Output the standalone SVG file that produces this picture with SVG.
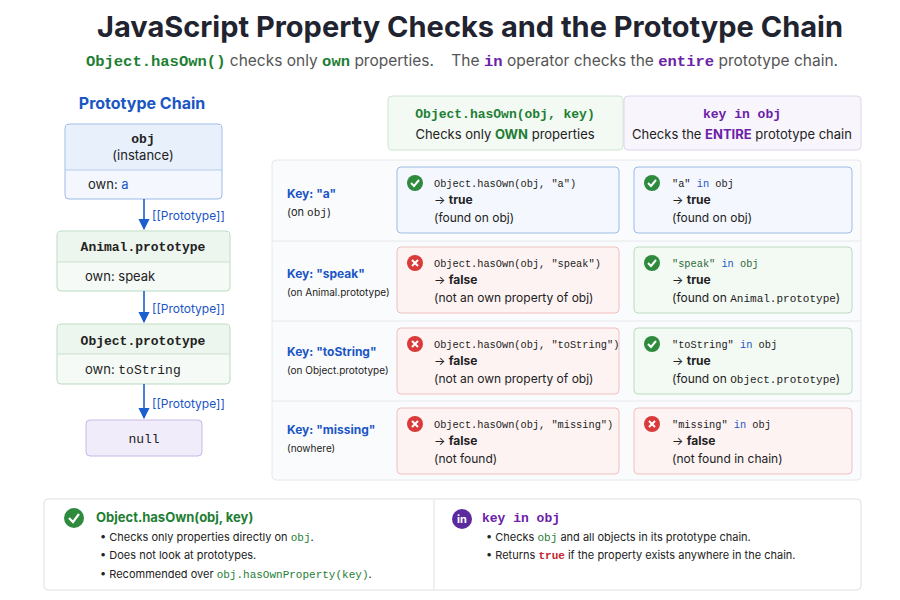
<svg xmlns="http://www.w3.org/2000/svg" width="900" height="600" viewBox="0 0 900 600">
<defs>
<marker id="ar" viewBox="0 0 10 10" refX="9" refY="5" markerWidth="7" markerHeight="7" orient="auto"><path d="M0,0L10,5L0,10z" fill="#1a5fd0"/></marker>
<g id="ok"><circle r="8" fill="#2e8b3e"/><path d="M-4,0L-1,3L4,-3" fill="none" stroke="#fff" stroke-width="2"/></g>
<g id="no"><circle r="8" fill="#d93a3a"/><path d="M-3,-3L3,3M3,-3L-3,3" stroke="#fff" stroke-width="2"/></g>
</defs>
<style>
text{font-family:"Inter","Liberation Sans",sans-serif;fill:#222}
.m{font-family:"Liberation Mono","DejaVu Sans Mono",monospace}
.t{font-size:29px;font-weight:bold;fill:#1f2430}
.s{font-size:15.5px;fill:#555}
.g{fill:#1e7e34}.p{fill:#6b21a8}.b{fill:#1a56c4}.r{fill:#c0262d}
.bold{font-weight:bold}
.c{font-size:12px}
.mc{font-size:10.3px}
.bx{fill:#f4f7fd;stroke:#9dbbe6}
.gx{fill:#f3f9f3;stroke:#b9dcbf}
.rx{fill:#fdf3f3;stroke:#efc0c0}
</style>
<text x="470" y="37" text-anchor="middle" class="t">JavaScript Property Checks and the Prototype Chain</text>
<text x="462" y="66" text-anchor="middle" class="s"><tspan class="m g bold">Object.hasOwn()</tspan> checks only <tspan class="m g bold">own</tspan> properties.<tspan dx="18">The</tspan> <tspan class="m p bold">in</tspan> operator checks the <tspan class="m p bold">entire</tspan> prototype chain.</text>

<text x="142" y="109" text-anchor="middle" font-size="16" class="b bold">Prototype Chain</text>
<g id="n-obj">
<rect x="65" y="124" width="157" height="75" rx="4" fill="#f4f7fd" stroke="#9dbbe6"/>
<path d="M66,125H221V170H66z" fill="#e8f0fb"/>
<line x1="65" y1="170" x2="222" y2="170" stroke="#b6cbec"/>
<text x="143" y="143" text-anchor="middle" font-size="13" class="m bold">obj</text>
<text x="143" y="160" text-anchor="middle" font-size="13">(instance)</text>
<text x="88" y="189" font-size="13"><tspan>own:</tspan> <tspan class="b">a</tspan></text>
</g>
<g id="n-animal">
<rect x="57" y="231" width="173" height="60" rx="4" fill="#f6faf6" stroke="#b9dcbf"/>
<path d="M58,232H229V262H58z" fill="#edf6ee"/>
<line x1="57" y1="262" x2="230" y2="262" stroke="#c8e2cc"/>
<text x="143" y="251" text-anchor="middle" font-size="13" class="m bold">Animal.prototype</text>
<text x="85" y="281" font-size="13">own:  speak</text>
</g>
<g id="n-object">
<rect x="57" y="324" width="173" height="60" rx="4" fill="#f6faf6" stroke="#b9dcbf"/>
<path d="M58,325H229V354H58z" fill="#edf6ee"/>
<line x1="57" y1="354" x2="230" y2="354" stroke="#c8e2cc"/>
<text x="143" y="345" text-anchor="middle" font-size="13" class="m bold">Object.prototype</text>
<text x="85" y="374" font-size="13">own:  <tspan class="m">toString</tspan></text>
</g>
<g id="n-null">
<rect x="86" y="420" width="116" height="36" rx="4" fill="#f1ecfa" stroke="#c9b8e8"/>
<text x="144" y="443" text-anchor="middle" font-size="13" class="m">null</text>
</g>
<g id="connectors" stroke="#1a5fd0" stroke-width="1.6" fill="none">
<line x1="144" y1="199" x2="144" y2="229" marker-end="url(#ar)"/>
<line x1="144" y1="291" x2="144" y2="322" marker-end="url(#ar)"/>
<line x1="144" y1="384" x2="144" y2="418" marker-end="url(#ar)"/>
</g>
<g font-size="12">
<text x="152" y="220" class="b">[[Prototype]]</text>
<text x="152" y="313" class="b">[[Prototype]]</text>
<text x="152" y="408" class="b">[[Prototype]]</text>
</g>

<g id="h-own">
<rect x="388" y="96" width="235" height="54" rx="4" fill="#f3f9f3" stroke="#cfe6d3"/>
<text x="505" y="118" text-anchor="middle" font-size="13" class="m g bold">Object.hasOwn(obj, key)</text>
<text x="505" y="139" text-anchor="middle" font-size="13">Checks only <tspan class="g bold">OWN</tspan> properties</text>
</g>
<g id="h-in">
<rect x="624" y="96" width="237" height="54" rx="4" fill="#f8f6fc" stroke="#ddd4ee"/>
<text x="742" y="118" text-anchor="middle" font-size="13" class="m p bold">key in obj</text>
<text x="742" y="139" text-anchor="middle" font-size="13">Checks the <tspan class="p bold">ENTIRE</tspan> prototype chain</text>
</g>

<rect x="272" y="160" width="589" height="320" rx="4" fill="#fafbfc" stroke="#e6e8eb"/>
<g stroke="#e6e8eb"><line x1="272" y1="241" x2="861" y2="241"/><line x1="272" y1="321" x2="861" y2="321"/><line x1="272" y1="401" x2="861" y2="401"/></g>

<g id="row-a">
<text x="287" y="198" font-size="12" class="b bold">Key: "a"</text>
<text x="287" y="216" font-size="11">(on <tspan class="m">obj</tspan>)</text>
<rect x="397" y="167" width="222" height="66" rx="4" class="bx"/>
<use href="#ok" x="415" y="183"/>
<text x="434" y="187" class="m mc">Object.hasOwn(obj, "a")</text>
<text x="434" y="204" class="c">→ <tspan class="bold">true</tspan></text>
<text x="434" y="222" class="c">(found on obj)</text>
<rect x="634" y="167" width="218" height="66" rx="4" class="bx"/>
<use href="#ok" x="652" y="183"/>
<text x="672" y="187" class="m mc">"a" <tspan class="b">in</tspan> obj</text>
<text x="672" y="204" class="c">→ <tspan class="bold">true</tspan></text>
<text x="672" y="222" class="c">(found on obj)</text>
</g>
<g id="row-speak">
<text x="287" y="278" font-size="12" class="b bold">Key: "speak"</text>
<text x="287" y="296" font-size="10">(on Animal.prototype)</text>
<rect x="397" y="247" width="222" height="66" rx="4" class="rx"/>
<use href="#no" x="415" y="263"/>
<text x="434" y="267" class="m mc">Object.hasOwn(obj, "speak")</text>
<text x="434" y="284" class="c">→ <tspan class="bold">false</tspan></text>
<text x="434" y="302" class="c">(not an own property of obj)</text>
<rect x="634" y="247" width="218" height="66" rx="4" class="gx"/>
<use href="#ok" x="652" y="263"/>
<text x="672" y="267" class="m mc" style="fill:#2d6a3a">"speak" <tspan class="b">in</tspan> obj</text>
<text x="672" y="284" class="c">→ <tspan class="bold">true</tspan></text>
<text x="672" y="302" class="c">(found on <tspan class="m" font-size="11">Animal.prototype</tspan>)</text>
</g>
<g id="row-tostring">
<text x="287" y="356" font-size="12" class="b bold">Key: "toString"</text>
<text x="287" y="374" font-size="10">(on Object.prototype)</text>
<rect x="397" y="328" width="222" height="66" rx="4" class="rx"/>
<use href="#no" x="415" y="344"/>
<text x="434" y="348" class="m mc">Object.hasOwn(obj, "toString")</text>
<text x="434" y="365" class="c">→ <tspan class="bold">false</tspan></text>
<text x="434" y="383" class="c">(not an own property of obj)</text>
<rect x="634" y="328" width="218" height="66" rx="4" class="gx"/>
<use href="#ok" x="652" y="344"/>
<text x="672" y="348" class="m mc">"toString" <tspan class="b">in</tspan> obj</text>
<text x="672" y="365" class="c">→ <tspan class="bold">true</tspan></text>
<text x="672" y="383" class="c">(found on <tspan class="m" font-size="11">Object.prototype</tspan>)</text>
</g>
<g id="row-missing">
<text x="287" y="434" font-size="12" class="b bold">Key: "missing"</text>
<text x="287" y="452" font-size="10">(nowhere)</text>
<rect x="397" y="408" width="222" height="66" rx="4" class="rx"/>
<use href="#no" x="415" y="424"/>
<text x="434" y="428" class="m mc">Object.hasOwn(obj, "missing")</text>
<text x="434" y="445" class="c">→ <tspan class="bold">false</tspan></text>
<text x="434" y="463" class="c">(not found)</text>
<rect x="634" y="408" width="218" height="66" rx="4" class="rx"/>
<use href="#no" x="652" y="424"/>
<text x="672" y="428" class="m mc">"missing" <tspan class="b">in</tspan> obj</text>
<text x="672" y="445" class="c">→ <tspan class="bold">false</tspan></text>
<text x="672" y="463" class="c">(not found in chain)</text>
</g>

<g id="summary">
<rect x="44" y="499" width="817" height="91" rx="4" fill="#fff" stroke="#dcdfe3"/>
<line x1="434" y1="500" x2="434" y2="589" stroke="#dcdfe3"/>
<circle cx="74" cy="518" r="10" fill="#2e8b3e"/><path d="M69,518L73,522L79,514" fill="none" stroke="#fff" stroke-width="2.2"/>
<text x="96" y="522" font-size="13" class="g bold">Object.hasOwn(obj, key)</text>
<text x="100" y="541" font-size="11">•  Checks only properties directly on <tspan class="m g">obj</tspan>.</text>
<text x="100" y="559" font-size="11">•  Does not look at prototypes.</text>
<text x="100" y="578" font-size="11">•  Recommended over <tspan class="m g">obj.hasOwnProperty(key)</tspan>.</text>
<circle cx="462" cy="519" r="10" fill="#5b2a9e"/><text x="462" y="523" text-anchor="middle" font-size="11" style="fill:#fff" class="bold">in</text>
<text x="482" y="522" font-size="13" class="m p bold">key in obj</text>
<text x="486" y="541" font-size="11">•  Checks <tspan class="m g">obj</tspan> and all objects in its prototype chain.</text>
<text x="486" y="559" font-size="11">•  Returns <tspan class="m r bold">true</tspan> if the property exists anywhere in the chain.</text>
</g>
</svg>
